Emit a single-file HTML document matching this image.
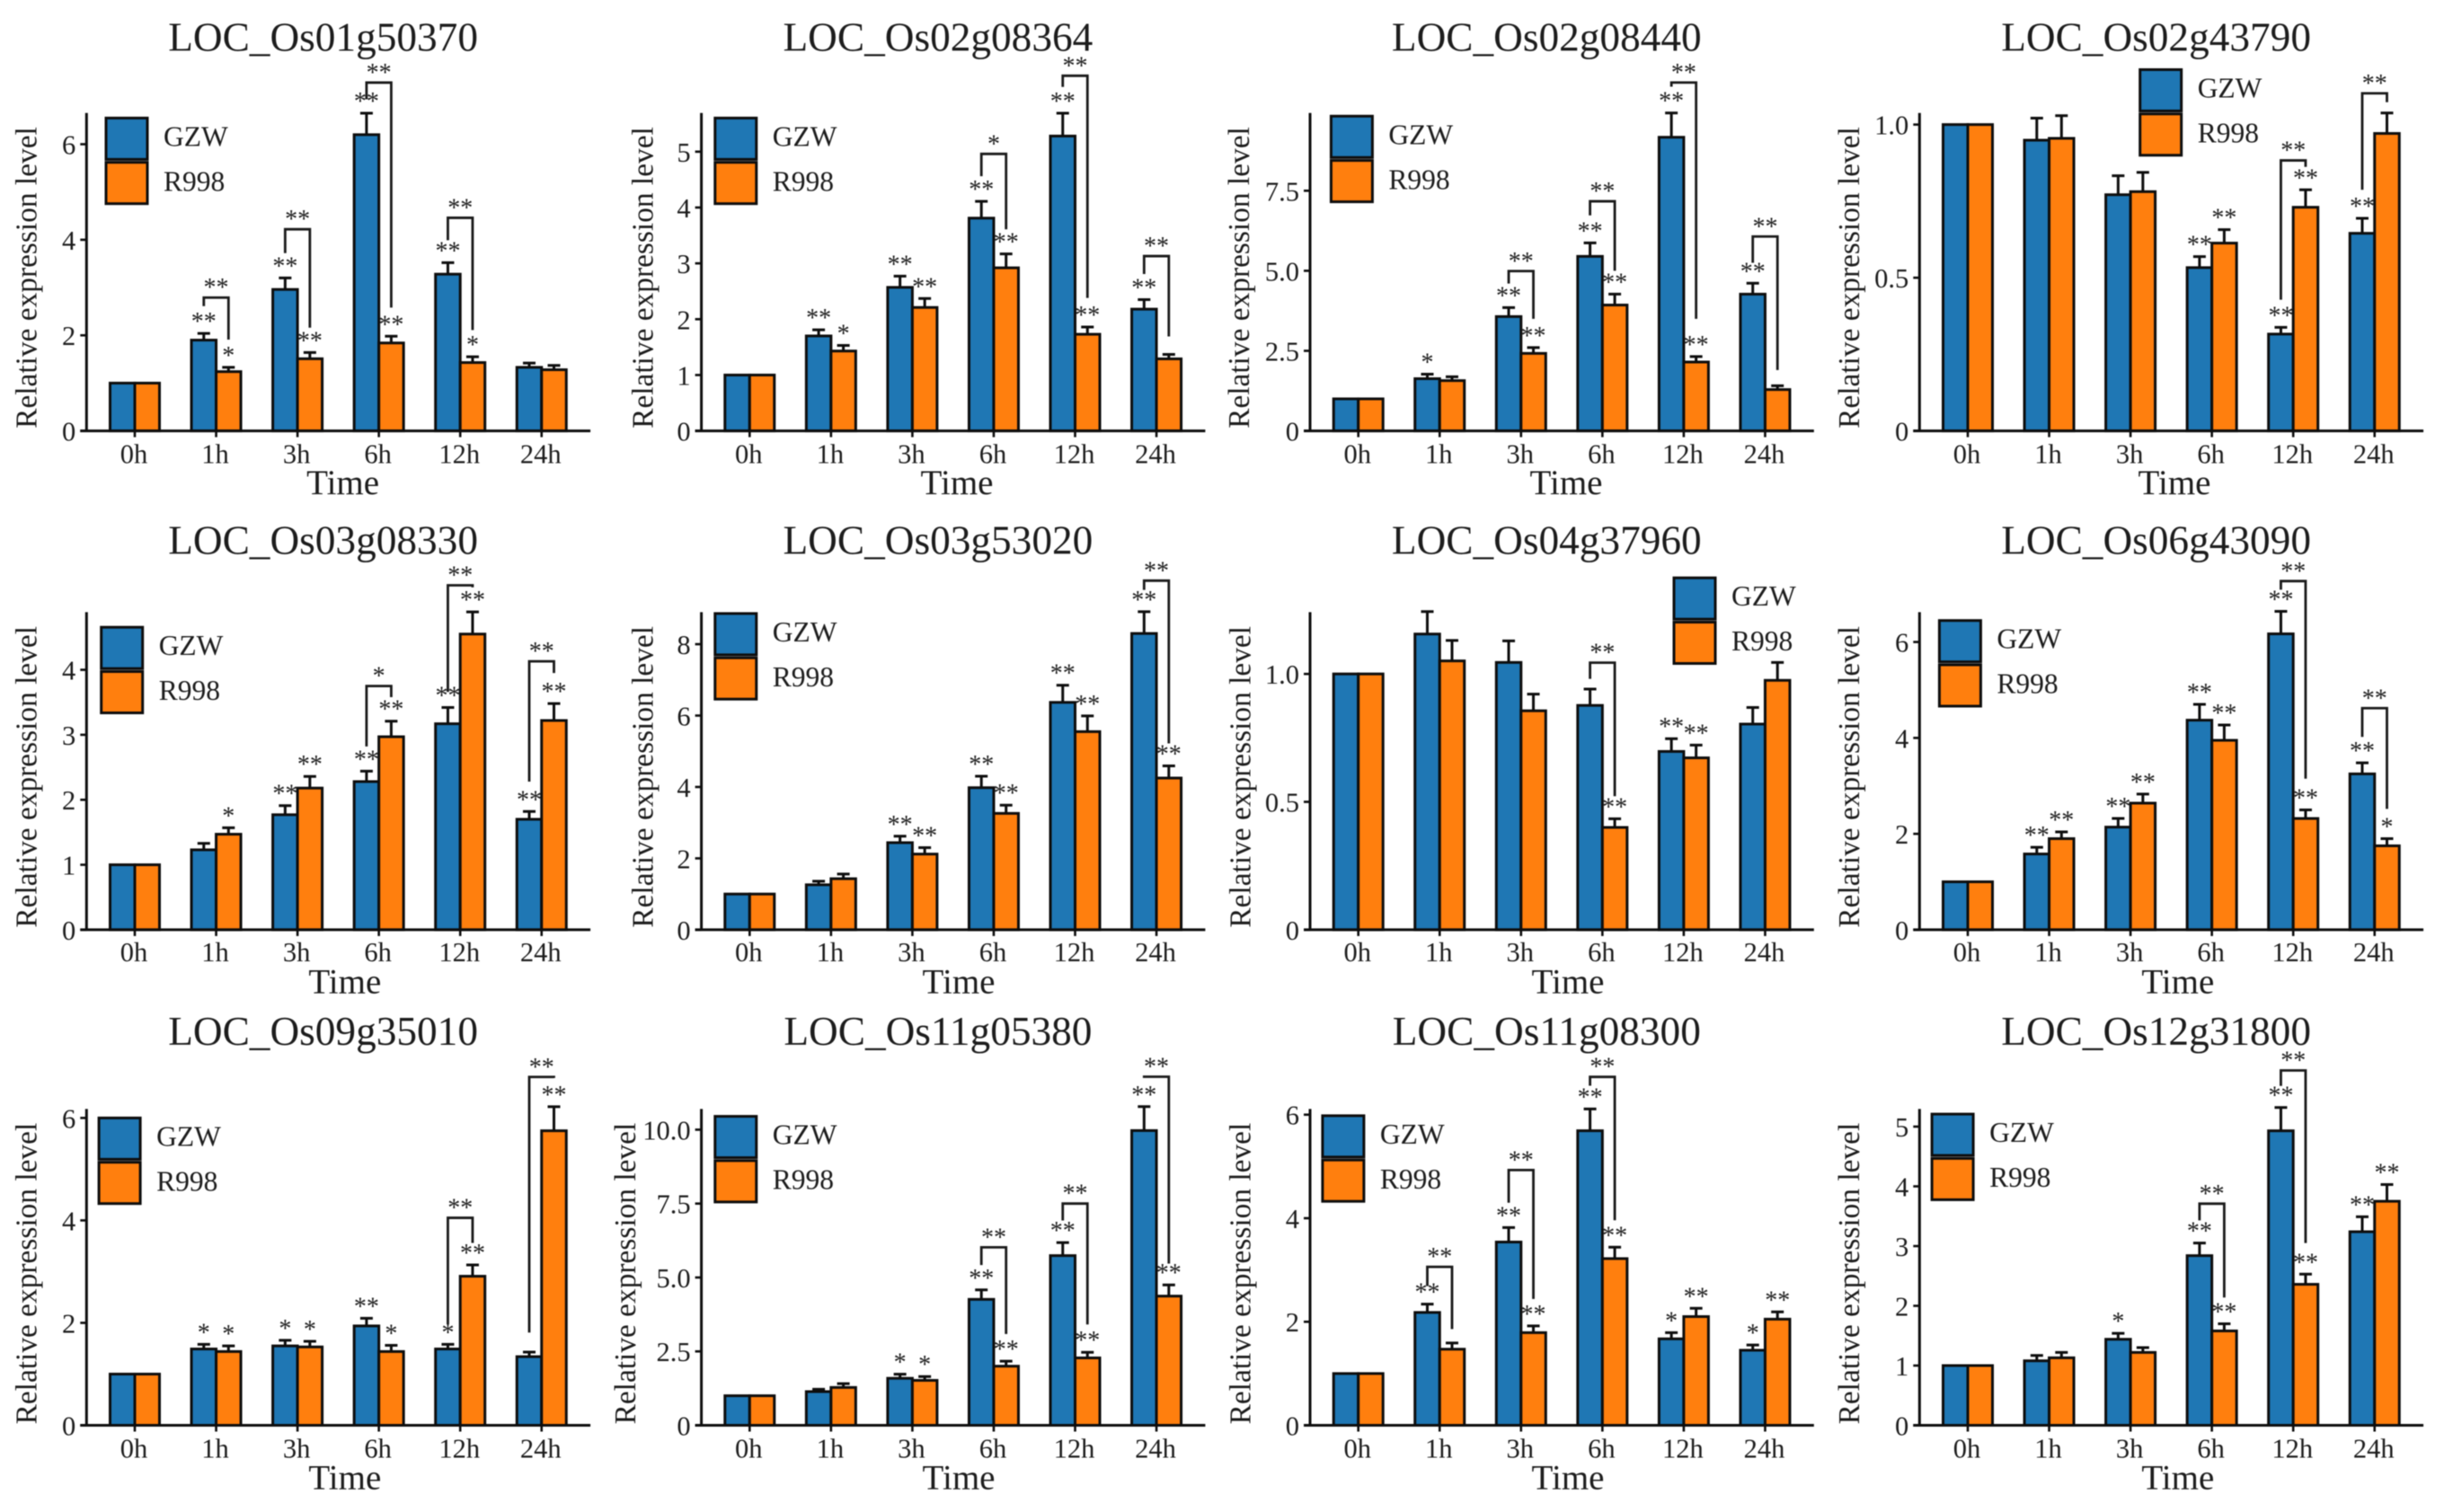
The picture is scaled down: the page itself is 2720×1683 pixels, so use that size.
<!DOCTYPE html>
<html lang="en">
<head>
<meta charset="utf-8">
<title>Relative expression level of twelve LOC genes over time</title>
<style>
html,body{margin:0;padding:0;background:#fff;}
#figure{display:block;width:2720px;height:1683px;filter:blur(0.6px);}
text{font-family:"Liberation Serif",serif;fill:#1c1c1c;}
</style>
</head>
<body>
<svg id="figure" xmlns="http://www.w3.org/2000/svg" width="2720" height="1683" viewBox="0 0 2720 1683"></svg>
<script>
const categories = ['0h', '1h', '3h', '6h', '12h', '24h'];
const geneTitles = ['LOC_Os01g50370','LOC_Os02g08364','LOC_Os02g08440','LOC_Os02g43790','LOC_Os03g08330','LOC_Os03g53020','LOC_Os04g37960','LOC_Os06g43090','LOC_Os09g35010','LOC_Os11g05380','LOC_Os11g08300','LOC_Os12g31800'];
const seriesNames = ['GZW', 'R998'];
const yMaxValues = [6.655, 5.694, 9.93, 1.038, 4.887, 8.897, 1.2415, 6.622, 6.175, 10.70, 6.11, 5.295];
const yTickValues = [
  [0,2,4,6],[0,1,2,3,4,5],[0,2.5,5,7.5],[0,0.5,1],
  [0,1,2,3,4],[0,2,4,6,8],[0,0.5,1],[0,2,4,6],
  [0,2,4,6],[0,2.5,5,7.5,10],[0,2,4,6],[0,1,2,3,4,5]
];
const yTickLabels = [
  ['0','2','4','6'],['0','1','2','3','4','5'],['0','2.5','5.0','7.5'],['0','0.5','1.0'],
  ['0','1','2','3','4'],['0','2','4','6','8'],['0','0.5','1.0'],['0','2','4','6'],
  ['0','2','4','6'],['0','2.5','5.0','7.5','10.0'],['0','2','4','6'],['0','1','2','3','4','5']
];
const gzwValues = [
  [1,1.90,2.96,6.20,3.28,1.33],[1,1.70,2.57,3.81,5.28,2.18],[1,1.63,3.57,5.45,9.17,4.27],[1,0.949,0.771,0.533,0.316,0.645],
  [1,1.23,1.77,2.28,3.17,1.70],[1,1.26,2.44,3.98,6.37,8.30],[1,1.156,1.045,0.877,0.697,0.804],[1,1.58,2.14,4.37,6.17,3.25],
  [1,1.49,1.55,1.94,1.49,1.34],[1,1.14,1.59,4.26,5.74,9.97],[1,2.18,3.54,5.69,1.67,1.45],[1,1.08,1.44,2.84,4.93,3.24]
];
const r998Values = [
  [1,1.24,1.51,1.84,1.43,1.28],[1,1.43,2.21,2.92,1.73,1.29],[1,1.57,2.42,3.93,2.15,1.29],[1,0.955,0.781,0.613,0.730,0.971],
  [1,1.47,2.18,2.97,4.55,3.22],[1,1.43,2.12,3.26,5.55,4.25],[1,1.051,0.856,0.40,0.672,0.975],[1,1.90,2.64,3.95,2.32,1.75],
  [1,1.44,1.53,1.44,2.91,5.75],[1,1.28,1.52,2.00,2.28,4.37],[1,1.47,1.79,3.22,2.10,2.05],[1,1.13,1.22,1.58,2.36,3.75]
];
const gzwErrorTops = [
  [1,2.04,3.20,6.65,3.52,1.42],[1,1.81,2.77,4.11,5.69,2.35],[1,1.77,3.85,5.87,9.93,4.61],[1,1.021,0.833,0.569,0.338,0.694],
  [1,1.33,1.91,2.44,3.42,1.82],[1,1.36,2.62,4.30,6.85,8.91],[1,1.244,1.129,0.941,0.747,0.869],[1,1.72,2.32,4.70,6.64,3.48],
  [1,1.58,1.66,2.09,1.58,1.43],[1,1.22,1.73,4.58,6.18,10.78],[1,2.34,3.82,6.11,1.79,1.55],[1,1.17,1.54,3.05,5.32,3.49]
];
const r998ErrorTops = [
  [1,1.33,1.64,1.98,1.55,1.37],[1,1.53,2.37,3.17,1.86,1.37],[1,1.69,2.60,4.27,2.32,1.41],[1,1.029,0.844,0.657,0.787,1.038],
  [1,1.57,2.36,3.21,4.89,3.48],[1,1.56,2.30,3.49,5.99,4.59],[1,1.131,0.921,0.434,0.722,1.045],[1,2.04,2.83,4.27,2.50,1.90],
  [1,1.55,1.64,1.56,3.13,6.22],[1,1.41,1.65,2.17,2.47,4.75],[1,1.59,1.92,3.44,2.26,2.19],[1,1.22,1.30,1.70,2.53,4.03]
];
const gzwSignificance = [
  ['','**','**','**','**',''],['','**','**','**','**','**'],['','*','**','**','**','**'],['','','','**','**','**'],
  ['','','**','**','**','**'],['','','**','**','**','**'],['','','','','**',''],['','**','**','**','**','**'],
  ['','*','*','**','*',''],['','','*','**','**','**'],['','**','**','**','*','*'],['','','*','**','**','**']
];
const r998Significance = [
  ['','*','**','**','*',''],['','*','**','**','**',''],['','','**','**','**',''],['','','','**','**',''],
  ['','*','**','**','**','**'],['','','**','**','**','**'],['','','','**','**',''],['','**','**','**','**','*'],
  ['','*','*','*','**','**'],['','','*','**','**','**'],['','','**','**','**','**'],['','','','**','**','**']
];
/* comparison brackets: [category index, top value, left-leg value, right-leg value, label] */
const comparisonBrackets = [
  [[1,2.79,2.61,1.91,'**'],[2,4.22,3.72,2.16,'**'],[3,7.29,6.94,2.58,'**'],[4,4.46,3.99,2.11,'**']],
  [[3,4.96,4.56,3.61,'*'],[4,6.36,6.16,2.38,'**'],[5,3.13,2.81,1.69,'**']],
  [[2,4.99,4.60,3.50,'**'],[3,7.17,6.73,5.00,'**'],[4,10.88,10.75,3.50,'**'],[5,6.07,5.25,1.90,'**']],
  [[4,0.883,0.428,0.862,'**'],[5,1.102,0.787,1.073,'**']],
  [[3,3.75,2.82,3.58,'*'],[4,5.30,3.66,5.27,'**'],[5,4.13,2.28,3.95,'**']],
  [[5,9.78,9.52,5.22,'**']],
  [[3,1.044,0.981,0.522,'**']],
  [[4,7.27,7.09,3.15,'**'],[5,4.62,4.02,2.52,'**']],
  [[4,4.05,1.97,3.56,'**'],[5,6.80,1.81,6.78,'**']],
  [[3,6.02,5.42,3.09,'**'],[4,7.50,6.93,3.41,'**'],[5,11.79,11.75,5.47,'**']],
  [[1,3.06,2.69,1.86,'**'],[2,4.93,4.30,2.44,'**'],[3,6.73,6.56,3.96,'**']],
  [[3,3.71,3.43,2.14,'**'],[4,5.94,5.68,3.05,'**']]
];

function drawFigure() {
  const svg = document.getElementById('figure');
  const NS = 'http://www.w3.org/2000/svg';
  const INK = '#0d0d0d';
  const BLUE = '#1f77b4';
  const ORANGE = '#ff7f0e';
  const rowBox = [
    {base:479.6, top:125.7, title:56.4, tick:515.3, time:550, labelY:309},
    {base:1034.9, top:681.4, title:616.4, tick:1070, time:1105.7, labelY:864.8},
    {base:1586.5, top:1234.4, title:1163, tick:1622.3, time:1657.6, labelY:1417.6}
  ];
  const axisXs = [96.3, 780.6, 1458, 2136.3];
  const timeXs = [381.6,1065,1743,2420, 383.8,1067,1745,2423.8, 383.8,1067,1745,2423.8];
  const yLabelXs = [40.3,726.4,1390,2069, 40.3,726.4,1391.7,2069, 40.3,707,1391.7,2069];
  const legendXs = [118,795.8,1481.4,2381.7, 112.7,795.8,1863,2158.4, 110.1,795.8,1471.9,2150.1];
  const legendYs = [131.4,131.4,129.3,77.5, 698.2,682.9,643.2,690.7, 1244.4,1242.6,1241.9,1240.1];
  const BAR_W = 27.5, STEP = 90.55, FIRST = 53.7, CAP = 7;

  function make(tag, parent, attrs, content) {
    const node = document.createElementNS(NS, tag);
    Object.keys(attrs).forEach(function (k) { node.setAttribute(k, attrs[k]); });
    if (content !== undefined) node.textContent = content;
    parent.appendChild(node);
    return node;
  }

  geneTitles.forEach(function (gene, p) {
    const row = rowBox[Math.floor(p / 4)];
    const axisX = axisXs[p % 4];
    const slug = gene.toLowerCase().replace('_', '-');
    const yOf = function (v) { return row.base - (v / yMaxValues[p]) * (row.base - row.top); };
    const xOf = function (i) { return axisX + FIRST + i * STEP; };

    const panel = make('g', svg, {});
    
    

    const title = make('text', panel, {x: axisX + 263.3, y: row.title, 'font-size': 45.3, 'text-anchor': 'middle'}, gene);
    
    

    categories.forEach(function (cat, i) {
      [[gzwValues, gzwErrorTops, gzwSignificance, BLUE, -1, 'gzw'], [r998Values, r998ErrorTops, r998Significance, ORANGE, 1, 'r998']].forEach(function (s) {
        const value = s[0][p][i], errTop = s[1][p][i], sig = s[2][p][i];
        const center = xOf(i) + s[4] * BAR_W / 2;
        if (errTop > value) {
          const stem = make('path', panel, {d: 'M' + center + ' ' + yOf(value) + 'V' + yOf(errTop) + 'M' + (center - CAP) + ' ' + yOf(errTop) + 'H' + (center + CAP), stroke: INK, 'stroke-width': 3, fill: 'none'});
          
          
        }
        const bar = make('rect', panel, {x: s[4] < 0 ? xOf(i) - BAR_W : xOf(i), y: yOf(value), width: BAR_W, height: row.base - yOf(value), fill: s[3], stroke: INK, 'stroke-width': 3});
        
        
        if (sig) {
          const mark = make('text', panel, {x: center, y: yOf(errTop) - 4, 'font-size': 28, 'text-anchor': 'middle'}, sig);
          
          
        }
      });

      const tick = make('line', panel, {x1: xOf(i), x2: xOf(i), y1: row.base, y2: row.base + 7, stroke: INK, 'stroke-width': 2.6});
      
      
      const tickLabel = make('text', panel, {x: xOf(i) - 1, y: row.tick, 'font-size': 30.5, 'text-anchor': 'middle'}, cat);
      
      
    });

    comparisonBrackets[p].forEach(function (b) {
      const cx = xOf(b[0]);
      const bracket = make('path', panel, {d: 'M' + (cx - BAR_W / 2) + ' ' + yOf(b[2]) + 'V' + yOf(b[1]) + 'H' + (cx + BAR_W / 2) + 'V' + yOf(b[3]), stroke: '#1a1a1a', 'stroke-width': 2.8, fill: 'none'});
      
      
      const label = make('text', panel, {x: cx, y: yOf(b[1]) - 2, 'font-size': 28, 'text-anchor': 'middle'}, b[4]);
      
      
    });

    const yAxis = make('line', panel, {x1: axisX, x2: axisX, y1: row.top, y2: row.base, stroke: INK, 'stroke-width': 3});
    
    
    const xAxis = make('line', panel, {x1: axisX - 7, x2: axisX + 560.8, y1: row.base, y2: row.base, stroke: INK, 'stroke-width': 3});
    
    

    yTickValues[p].forEach(function (v, t) {
      const tick = make('line', panel, {x1: axisX - 7, x2: axisX, y1: yOf(v), y2: yOf(v), stroke: INK, 'stroke-width': 2.6});
      
      
      const tickLabel = make('text', panel, {x: axisX - 12, y: yOf(v) + 11, 'font-size': 30.5, 'text-anchor': 'end'}, yTickLabels[p][t]);
      
      
    });

    const timeTitle = make('text', panel, {x: timeXs[p], y: row.time, 'font-size': 39, 'text-anchor': 'middle'}, 'Time');
    
    

    const yTitle = make('text', panel, {transform: 'translate(' + yLabelXs[p] + ' ' + row.labelY + ') rotate(-90)', 'font-size': 33.4, 'text-anchor': 'middle'}, 'Relative expression level');
    
    

    seriesNames.forEach(function (name, k) {
      const entry = make('g', panel, {});
      
      
      const swatch = make('rect', entry, {x: legendXs[p], y: legendYs[p] + k * 49.3, width: 46, height: 46, fill: k ? ORANGE : BLUE, stroke: INK, 'stroke-width': 3});
      
      
      const label = make('text', entry, {x: legendXs[p] + 64, y: legendYs[p] + 31 + k * 50, 'font-size': 31.5}, name);
      
      
    });
  });
}
drawFigure();
</script>
</body>
</html>
